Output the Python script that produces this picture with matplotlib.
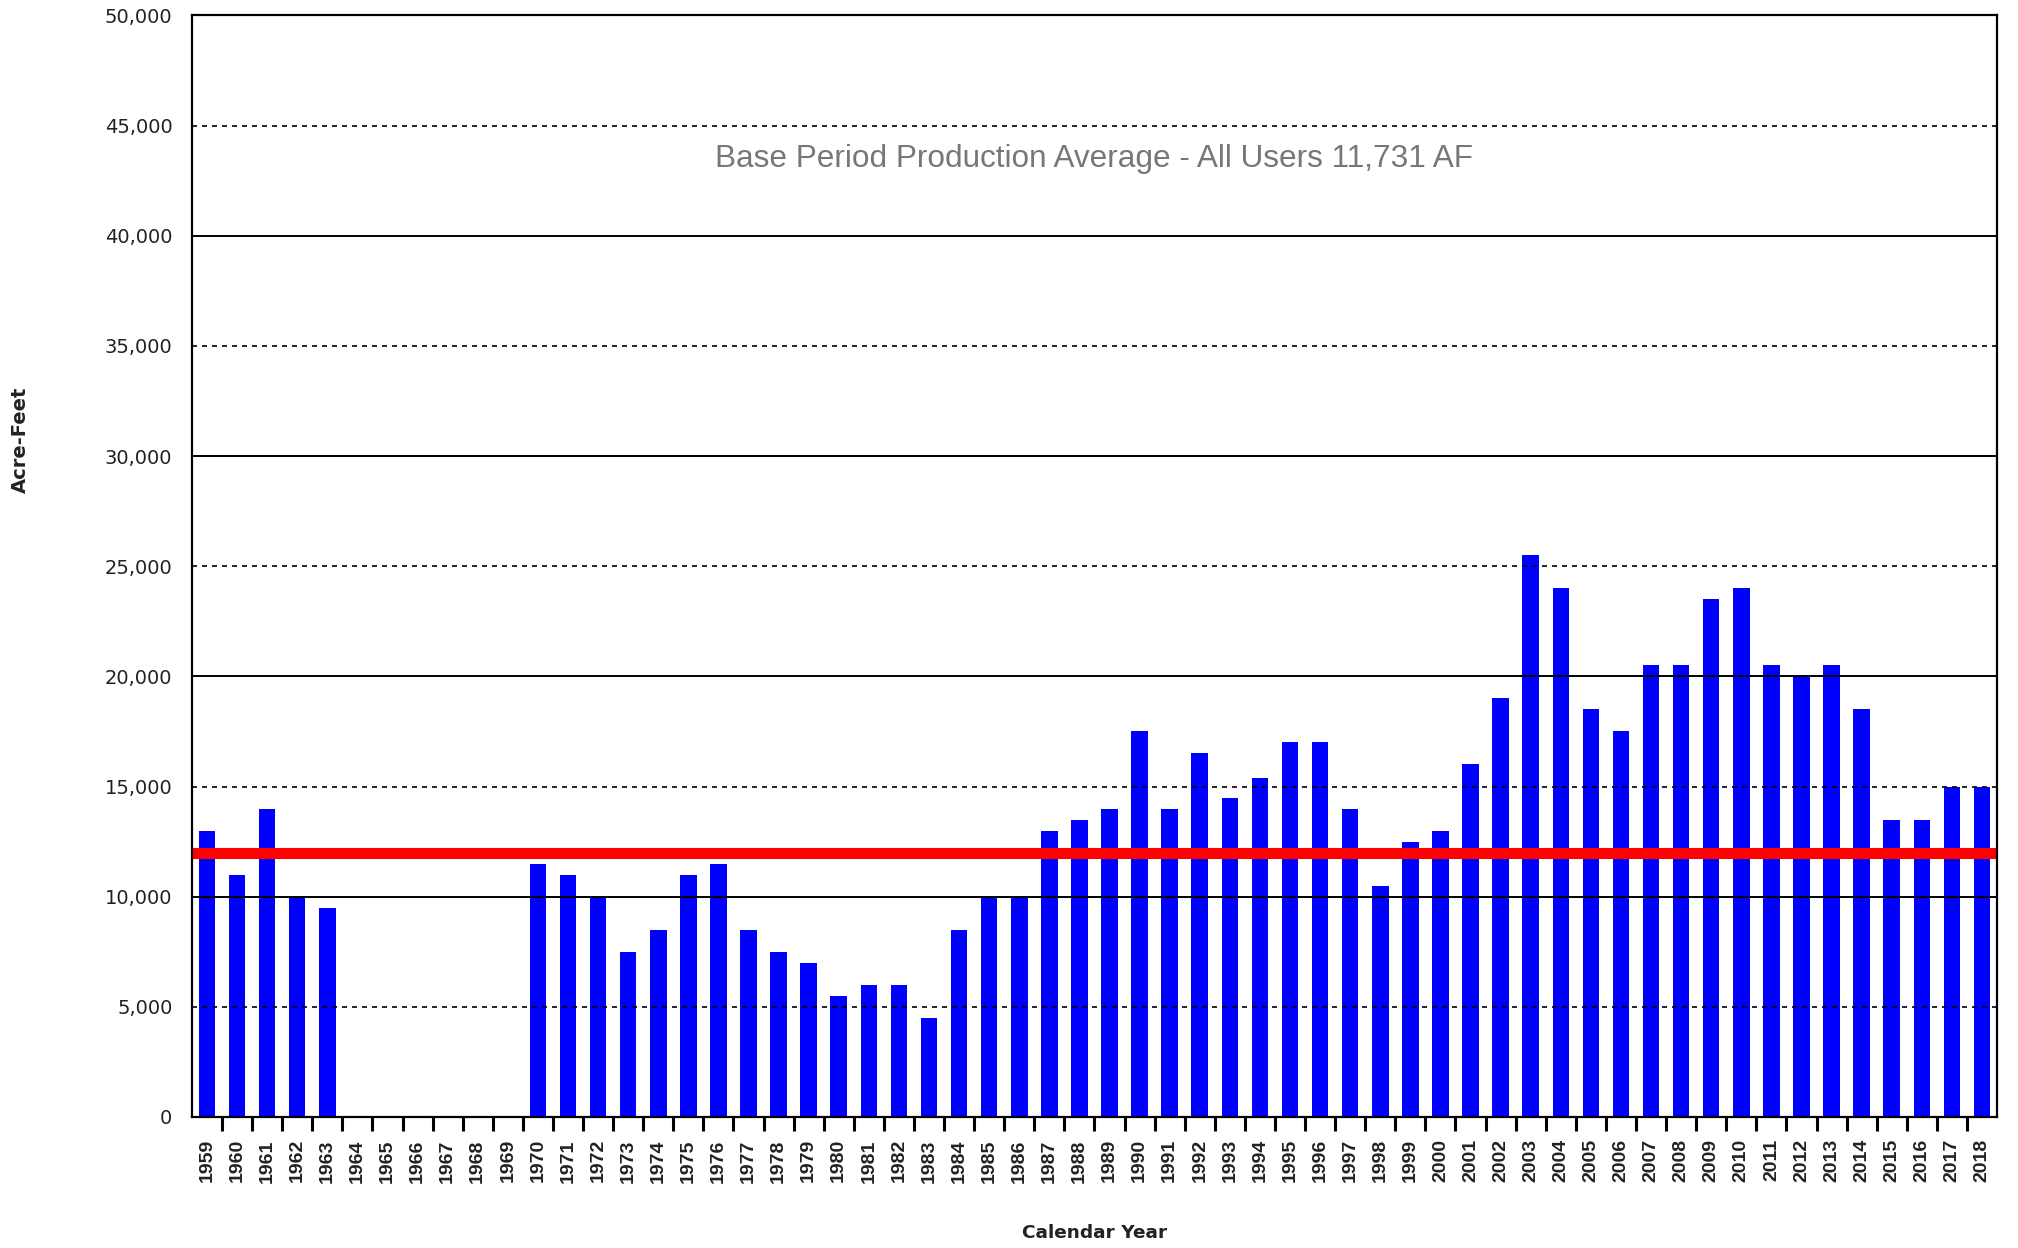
import numpy as np
import matplotlib.pyplot as plt
from matplotlib.transforms import offset_copy

years = list(range(1959, 2019))
acre_feet = [13000, 11000, 14000, 10000, 9500, 0, 0, 0, 0, 0, 0,
             11500, 11000, 10000, 7500, 8500, 11000, 11500, 8500, 7500, 7000,
             5500, 6000, 6000, 4500, 8500, 10000, 10000, 13000, 13500, 14000,
             17500, 14000, 16500, 14500, 15400, 17000, 17000, 14000, 10500, 12500,
             13000, 16000, 19000, 25500, 24000, 18500, 17500, 20500, 20500, 23500,
             24000, 20500, 20000, 20500, 18500, 13500, 13500, 15000, 15000]
base_avg = 11731
avg_label = 'Base Period Production Average - All Users 11,731 AF'
yticks = list(range(0, 50001, 5000))

fig = plt.figure(figsize=(20.18, 12.48), dpi=100)
ax = fig.add_axes([0.0951, 0.105, 0.8945, 0.8826])

x = np.arange(len(years))
ax.bar(x, acre_feet, width=0.55, color='#0000ff', zorder=2)

# grid: solid every 10k, dashed in between
for v in yticks[1:-1]:
    if v % 10000 == 0:
        ax.axhline(v, color='black', lw=1.4, zorder=3)
    else:
        ax.axhline(v, color='black', lw=1.2, ls=(0, (3, 3)), zorder=3)

# thick average line sits on top of the value
red_tr = offset_copy(ax.get_yaxis_transform(), fig=fig, y=4, units='points')
ax.plot([0, 1], [base_avg, base_avg], color='#ff0000', lw=8, zorder=4,
        transform=red_tr, solid_capstyle='butt')

ax.set_xlim(-0.5, len(years) - 0.5)
ax.set_ylim(0, 50000)
ax.set_yticks(yticks)
ax.set_yticklabels([f'{v:,}' for v in yticks], fontsize=14, color='#222222')
ax.tick_params(axis='y', length=0, pad=14)

ax.set_xticks(x)
ax.set_xticklabels([str(y) for y in years], rotation=90, fontsize=14,
                   fontweight='bold', family='Liberation Sans', color='#222222')
ax.set_xticks(x[:-1] + 0.5, minor=True)
ax.tick_params(axis='x', which='major', length=0, pad=16)
ax.tick_params(axis='x', which='minor', length=10, width=2.2, color='black')

for s in ax.spines.values():
    s.set_linewidth(1.6)
    s.set_zorder(5)

ax.text(0.5, 0.8695, avg_label, transform=ax.transAxes, ha='center', va='center',
        fontsize=22.7, color='#777777', family='Liberation Sans')

fig.text(20 / 2018, 1 - 440 / 1248, 'Acre-Feet', rotation=90, ha='center', va='center',
         fontsize=14, fontweight='bold', family='DejaVu Sans', color='#222222')
fig.text(0.5423, 0.012, 'Calendar Year', ha='center', va='center',
         fontsize=13.3, fontweight='bold', family='DejaVu Sans', color='#222222')

fig.savefig('out.png', dpi=100)
